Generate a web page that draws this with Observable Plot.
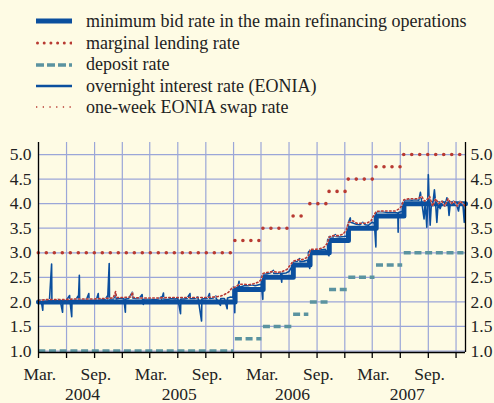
<!DOCTYPE html>
<html><head><meta charset="utf-8">
<script src="https://cdn.jsdelivr.net/npm/d3@7"></script>
<script src="https://cdn.jsdelivr.net/npm/@observablehq/plot@0.6"></script>
<style>
body{margin:0;background:#fefbe4;width:494px;height:403px;overflow:hidden;font-family:"Liberation Serif",serif;color:#222}
#legend{position:relative;height:120px;font-family:"Liberation Serif",serif;font-size:18px}
.row{position:absolute;left:0;height:22px;display:flex;align-items:center;white-space:nowrap;font-family:"Liberation Serif",serif}
.row svg{margin-left:36px;margin-right:14px;display:block}
#chart svg{display:block}
</style>
</head><body>
<div id="legend"></div>
<div id="chart"></div>
<script>
// ---- data ----
const rateDates = ["2004-03-01","2005-12-06","2006-03-08","2006-06-15","2006-08-09","2006-10-11","2006-12-13","2007-03-14","2007-06-13"];
const endDate = "2008-01-01";
const mroRates = [2.00,2.25,2.50,2.75,3.00,3.25,3.50,3.75,4.00];
const mlfRates = [3.00,3.25,3.50,3.75,4.00,4.25,4.50,4.75,5.00];
const depRates = [1.00,1.25,1.50,1.75,2.00,2.25,2.50,2.75,3.00];

const eonia = [
["2004-03-01",2.03],["2004-03-10",2.02],["2004-03-15",1.83],["2004-03-16",2.02],["2004-03-25",2.01],
["2004-04-06",2.04],["2004-04-13",2.77],["2004-04-14",2.03],["2004-04-22",2.03],["2004-05-04",2.05],
["2004-05-11",2.03],["2004-05-19",1.79],["2004-05-20",2.03],["2004-06-01",2.04],["2004-06-11",2.13],
["2004-06-12",2.04],["2004-06-18",1.70],["2004-06-19",2.04],["2004-07-02",2.05],["2004-07-09",2.12],
["2004-07-10",2.04],["2004-07-13",2.54],["2004-07-14",2.05],["2004-07-26",2.04],["2004-08-06",2.06],
["2004-08-13",2.17],["2004-08-14",2.05],["2004-08-25",2.04],["2004-09-07",2.05],["2004-09-13",2.17],
["2004-09-14",2.05],["2004-09-27",2.05],["2004-10-07",2.06],["2004-10-13",2.12],["2004-10-14",2.06],
["2004-10-19",2.78],["2004-10-20",2.06],["2004-11-01",2.06],["2004-11-10",2.15],["2004-11-11",2.06],
["2004-11-24",2.08],["2004-12-06",2.07],["2004-12-11",1.79],["2004-12-12",2.06],["2004-12-22",2.07],
["2005-01-03",2.20],["2005-01-04",2.08],["2005-01-14",2.07],["2005-01-25",2.07],["2005-02-04",2.15],
["2005-02-05",2.07],["2005-02-08",1.95],["2005-02-09",2.06],["2005-02-20",2.06],["2005-03-04",2.06],
["2005-03-15",2.05],["2005-03-28",2.06],["2005-04-08",2.10],["2005-04-09",2.05],["2005-04-15",2.18],
["2005-04-16",2.06],["2005-04-28",2.05],["2005-05-10",2.07],["2005-05-23",2.06],["2005-06-01",2.07],
["2005-06-10",1.76],["2005-06-11",2.06],["2005-06-22",2.06],["2005-07-01",2.07],["2005-07-11",2.17],
["2005-07-12",2.07],["2005-07-25",2.07],["2005-08-06",2.10],["2005-08-07",2.06],["2005-08-18",1.61],
["2005-08-19",2.06],["2005-08-30",2.07],["2005-09-07",2.08],["2005-09-13",2.17],["2005-09-14",2.07],
["2005-09-26",2.08],["2005-10-04",2.12],["2005-10-05",2.07],["2005-10-19",1.93],["2005-10-20",2.07],
["2005-11-01",2.07],["2005-11-10",1.86],["2005-11-11",2.08],["2005-11-22",2.10],["2005-11-29",2.09],
["2005-11-30",2.30],["2005-12-01",2.08],["2005-12-04",2.06],["2005-12-05",1.78],["2005-12-06",2.30],
["2005-12-15",2.30],["2005-12-19",2.42],["2005-12-20",2.30],["2006-01-05",2.33],["2006-01-17",2.33],
["2006-01-30",2.35],["2006-02-10",2.33],["2006-02-22",2.35],["2006-03-02",2.36],["2006-03-07",2.05],
["2006-03-08",2.57],["2006-03-20",2.57],["2006-04-03",2.60],["2006-04-11",2.64],["2006-04-12",2.58],
["2006-04-24",2.58],["2006-05-04",2.60],["2006-05-08",2.40],["2006-05-09",2.58],["2006-05-22",2.59],
["2006-06-01",2.62],["2006-06-09",2.70],["2006-06-14",2.66],["2006-06-15",2.82],["2006-06-28",2.83],
["2006-07-06",2.88],["2006-07-07",2.82],["2006-07-20",2.83],["2006-07-31",2.85],["2006-08-08",2.68],
["2006-08-09",3.06],["2006-08-22",3.05],["2006-09-05",3.05],["2006-09-15",3.06],["2006-09-28",3.07],
["2006-10-10",2.94],["2006-10-11",3.33],["2006-10-24",3.32],["2006-10-31",3.37],["2006-11-02",3.33],
["2006-11-15",3.32],["2006-11-28",3.33],["2006-12-08",3.34],["2006-12-12",3.36],["2006-12-13",3.62],
["2006-12-19",3.71],["2006-12-20",3.62],["2007-01-08",3.58],["2007-01-19",3.57],["2007-01-29",3.62],
["2007-02-06",3.57],["2007-02-16",3.56],["2007-02-28",3.62],["2007-03-08",3.60],["2007-03-13",3.12],
["2007-03-14",3.83],["2007-03-27",3.84],["2007-04-10",3.83],["2007-04-20",3.82],["2007-05-03",3.82],
["2007-05-15",3.82],["2007-05-24",3.81],["2007-05-25",3.42],["2007-05-26",3.82],["2007-06-06",3.84],
["2007-06-12",3.85],["2007-06-13",4.07],["2007-06-26",4.08],["2007-07-09",4.07],["2007-07-20",4.08],
["2007-08-01",4.07],["2007-08-06",4.23],["2007-08-10",4.05],["2007-08-18",3.69],["2007-08-22",4.05],
["2007-08-27",3.52],["2007-08-30",4.02],["2007-09-01",4.59],["2007-09-04",4.00],["2007-09-07",3.56],
["2007-09-11",4.00],["2007-09-15",3.95],["2007-09-21",4.28],["2007-09-25",4.00],["2007-09-29",3.62],
["2007-10-03",4.00],["2007-10-10",3.90],["2007-10-18",4.05],["2007-10-25",3.95],["2007-11-01",4.12],
["2007-11-05",4.00],["2007-11-08",3.76],["2007-11-12",4.00],["2007-11-23",4.05],["2007-12-03",3.98],
["2007-12-09",3.85],["2007-12-14",4.05],["2007-12-20",4.00],["2007-12-24",3.95],["2007-12-28",3.62],
["2007-12-31",3.95]
];

const swap = [
["2004-03-01",2.03],["2004-04-01",2.05],["2004-05-01",2.05],["2004-06-01",2.05],["2004-07-01",2.06],
["2004-08-01",2.06],["2004-09-01",2.06],["2004-10-01",2.07],["2004-11-01",2.08],["2004-11-09",2.21],
["2004-11-12",2.09],["2004-12-01",2.09],["2004-12-29",2.10],["2005-01-03",2.20],["2005-01-06",2.09],
["2005-02-01",2.08],["2005-03-01",2.08],["2005-04-01",2.08],["2005-05-01",2.09],["2005-06-01",2.09],
["2005-07-01",2.09],["2005-08-01",2.09],["2005-09-01",2.09],["2005-10-01",2.10],["2005-10-20",2.12],
["2005-11-01",2.15],["2005-11-15",2.20],["2005-11-25",2.28],["2005-12-06",2.30],["2005-12-20",2.36],
["2006-01-05",2.36],["2006-01-20",2.35],["2006-02-05",2.37],["2006-02-20",2.40],["2006-03-01",2.45],
["2006-03-08",2.58],["2006-03-20",2.60],["2006-04-10",2.62],["2006-04-25",2.60],["2006-05-10",2.62],
["2006-05-25",2.66],["2006-06-05",2.75],["2006-06-15",2.83],["2006-06-30",2.86],["2006-07-15",2.86],
["2006-07-28",2.90],["2006-08-05",2.95],["2006-08-10",3.07],["2006-08-25",3.07],["2006-09-10",3.08],
["2006-09-25",3.12],["2006-10-05",3.20],["2006-10-11",3.32],["2006-10-25",3.35],["2006-11-10",3.35],
["2006-11-25",3.38],["2006-12-05",3.45],["2006-12-13",3.62],["2006-12-28",3.65],["2007-01-10",3.60],
["2007-01-25",3.60],["2007-02-10",3.60],["2007-02-25",3.65],["2007-03-05",3.75],["2007-03-14",3.84],
["2007-03-30",3.85],["2007-04-15",3.85],["2007-05-01",3.85],["2007-05-15",3.85],["2007-05-30",3.90],
["2007-06-05",3.95],["2007-06-13",4.08],["2007-06-30",4.10],["2007-07-15",4.10],["2007-07-30",4.10],
["2007-08-10",4.15],["2007-08-20",4.05],["2007-08-30",4.10],["2007-09-05",4.15],["2007-09-15",3.95],
["2007-09-25",4.10],["2007-10-05",4.00],["2007-10-15",4.05],["2007-10-25",3.95],["2007-11-05",4.10],
["2007-11-15",4.00],["2007-11-25",4.05],["2007-12-05",3.95],["2007-12-15",4.05],["2007-12-31",3.95]
];

const quarterTicks = ["2004-03-01","2004-06-01","2004-09-01","2004-12-01","2005-03-01","2005-06-01","2005-09-01","2005-12-01",
  "2006-03-01","2006-06-01","2006-09-01","2006-12-01","2007-03-01","2007-06-01","2007-09-01","2007-12-01"];
const monthLabelDates = ["2004-03-05","2004-09-05","2005-03-05","2005-09-05","2006-03-05","2006-09-05","2007-03-05","2007-09-05"];
const monthLabels = ["Mar.","Sep.","Mar.","Sep.","Mar.","Sep.","Mar.","Sep."];
const yearLabelDates = ["2004-07-23","2005-06-06","2006-06-12","2007-06-24"];
const yearLabels = ["2004","2005","2006","2007"];
const yTicks = [1.0,1.5,2.0,2.5,3.0,3.5,4.0,4.5,5.0];
const yDomain = [0.97, 5.245];
const xDomain = ["2004-03-01", "2008-01-01"];

const legendItems = [
  "minimum bid rate in the main refinancing operations",
  "marginal lending rate",
  "deposit rate",
  "overnight interest rate (EONIA)",
  "one-week EONIA swap rate"
];

// ---- styles ----
const BLUE = "#0b4f9e", RED = "#b83a32", TEAL = "#5b93a0", GRID = "#9ba6d8";
const P = d3.utcParse("%Y-%m-%d");

// ---- legend ----
const swatchStyles = [
  {stroke: BLUE, width: 5, dash: null, cap: "butt"},
  {stroke: RED, width: 3, dash: "0 6.7", cap: "round"},
  {stroke: TEAL, width: 3.5, dash: "8 3", cap: "butt"},
  {stroke: BLUE, width: 2.4, dash: null, cap: "butt"},
  {stroke: RED, width: 1.3, dash: "1.3 5.4", cap: "butt"}
];
const legendCenters = [21, 43, 64.5, 86, 107];
const leg = d3.select("#legend");
legendItems.forEach((t, i) => {
  const row = leg.append("div").attr("class", "row").style("top", (legendCenters[i] - 11) + "px");
  const s = swatchStyles[i];
  const svg = row.append("svg").attr("width", 36).attr("height", 8);
  svg.append("line").attr("x1", s.cap === "round" ? 1.5 : 0).attr("x2", 36).attr("y1", 4).attr("y2", 4)
    .attr("stroke", s.stroke).attr("stroke-width", s.width)
    .attr("stroke-dasharray", s.dash).attr("stroke-linecap", s.cap);
  row.append("span").style("font-family", "'Liberation Serif', serif").text(t);
});

// ---- derived tables ----
const mroPts = rateDates.map((d, i) => ({date: P(d), v: mroRates[i]})).concat([{date: P(endDate), v: mroRates[mroRates.length - 1]}]);
const seg = (rates) => rates.map((v, i) => ({
  start: d3.utcDay.offset(P(rateDates[i]), 1),
  end: d3.utcDay.offset(P(i + 1 < rateDates.length ? rateDates[i + 1] : "2007-12-31"), -4),
  v
}));
const mlfSeg = seg(mlfRates), depSeg = seg(depRates);
const eon = eonia.map(([d, v]) => ({date: P(d), v}));
const swp = swap.map(([d, v]) => ({date: P(d), v}));
const qt = quarterTicks.map(P);
const ml = monthLabelDates.map((d, i) => ({date: P(d), t: monthLabels[i]}));
const yl = yearLabelDates.map((d, i) => ({date: P(d), t: yearLabels[i]}));
const xd = xDomain.map(P);

const chart = Plot.plot({
  width: 494, height: 283,
  marginTop: 22, marginBottom: 51, marginLeft: 38, marginRight: 29,
  x: {type: "utc", domain: xd, label: null},
  y: {domain: yDomain, label: null},
  style: {background: "transparent", fontFamily: "Liberation Serif", fontSize: "17.5px", color: "#222", overflow: "visible"},
  marks: [
    Plot.ruleX(qt, {stroke: GRID, strokeWidth: 1.2}),
    Plot.ruleY(yTicks, {stroke: GRID, strokeWidth: 1.2}),
    Plot.ruleY(depSeg, {x1: "start", x2: "end", y: "v", stroke: TEAL, strokeWidth: 3.5, strokeDasharray: "7 3.7"}),
    Plot.line(mroPts, {x: "date", y: "v", curve: "step-after", stroke: BLUE, strokeWidth: 5}),
    Plot.line(eon, {x: "date", y: "v", stroke: BLUE, strokeWidth: 1.6}),
    Plot.line(swp, {x: "date", y: "v", stroke: "#ffffff", strokeWidth: 1.1, strokeOpacity: 0.9}),
    Plot.line(swp, {x: "date", y: "v", stroke: RED, strokeWidth: 1.6, strokeDasharray: "1.6 2.4"}),
    Plot.ruleY(mlfSeg, {x1: "start", x2: "end", y: "v", stroke: RED, strokeWidth: 3.6, strokeDasharray: "0 8", strokeLinecap: "round"}),
    Plot.ruleX(xd, {stroke: "#000", strokeWidth: 1.3}),
    Plot.ruleY([yDomain[0]], {stroke: "#000", strokeWidth: 1.3}),
    Plot.axisX({ticks: qt, tickSize: 6, tickFormat: () => "", label: null, stroke: "#000", strokeWidth: 1.3}),
    Plot.axisY({anchor: "left", ticks: yTicks, tickSize: 0, tickPadding: 7, tickFormat: d3.format(".1f"), label: null, fill: "#222"}),
    Plot.axisY({anchor: "right", ticks: yTicks, tickSize: 0, tickPadding: 5, tickFormat: d3.format(".1f"), label: null, fill: "#222"}),
    Plot.text(ml, {x: "date", text: "t", frameAnchor: "bottom", lineAnchor: "top", dy: 15, fill: "#222"}),
    Plot.text(yl, {x: "date", text: "t", frameAnchor: "bottom", lineAnchor: "top", dy: 35.5, fill: "#222"})
  ]
});
document.getElementById("chart").appendChild(chart);
</script>
</body></html>
